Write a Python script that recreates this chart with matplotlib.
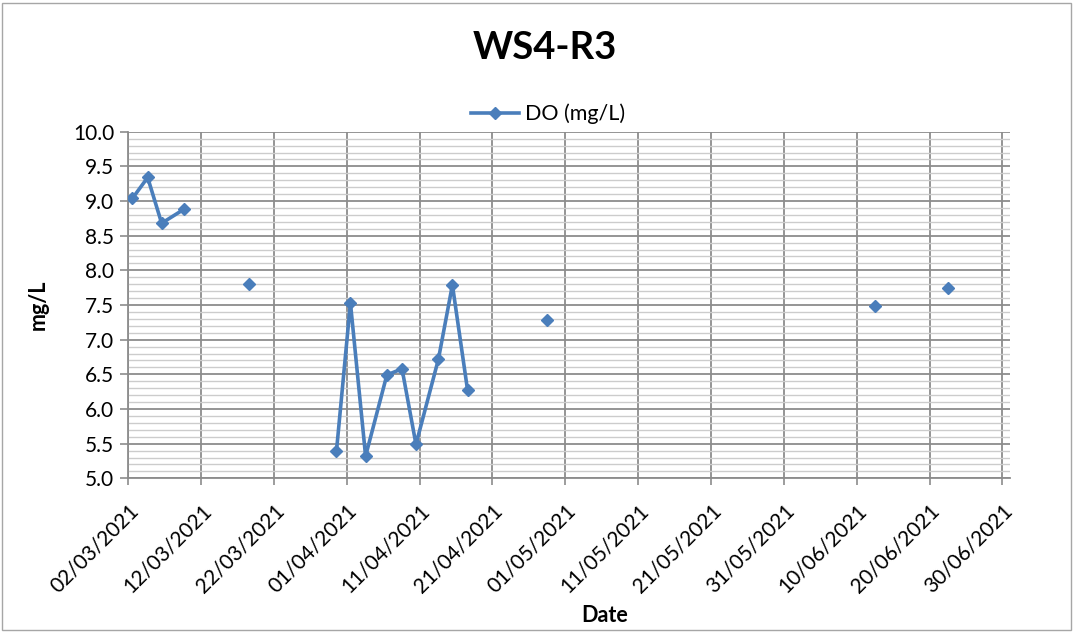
import matplotlib
matplotlib.use("Agg")
import matplotlib.pyplot as plt
import matplotlib.dates as mdates
from matplotlib.ticker import MultipleLocator
from matplotlib.transforms import ScaledTranslation
from matplotlib.patches import Rectangle
import numpy as np
import pandas as pd

# sample dates (blank rows = no DO reading, they break the line like Excel does)
sample_dates = ["2021-03-02 14:00", "2021-03-04 16:00", "2021-03-06 14:00", "2021-03-09 15:00",
                "2021-03-12 12:00",
                "2021-03-18 14:00",
                "2021-03-25 12:00",
                "2021-03-30 14:00", "2021-04-01 12:00", "2021-04-03 14:00", "2021-04-06 12:00",
                "2021-04-08 14:00", "2021-04-10 12:00", "2021-04-13 14:00", "2021-04-15 12:00",
                "2021-04-17 14:00",
                "2021-04-22 12:00",
                "2021-04-28 12:00",
                "2021-05-20 12:00",
                "2021-06-12 12:00",
                "2021-06-17 12:00",
                "2021-06-22 12:00"]
do_values = [9.04, 9.34, 8.68, 8.88,
             np.nan,
             7.81,
             np.nan,
             5.39, 7.53, 5.32, 6.49, 6.58, 5.49, 6.72, 7.79, 6.27,
             np.nan,
             7.29,
             np.nan,
             7.48,
             np.nan,
             7.75]

series_name = "DO (mg/L)"
chart_title = "WS4-R3"
x_label = "Date"
y_label = "mg/L"

x_start = "2021-03-02"
x_end = "2021-07-01 01:00"

dates = pd.to_datetime(sample_dates)

plt.rcParams['font.family'] = ['Lato', 'DejaVu Sans']

fig = plt.figure(figsize=(10.75, 6.33), dpi=100)
ax = fig.add_axes([0.1193, 0.2444, 0.8202, 0.5475])

# chart area border
fig.patches.append(Rectangle((0.002, 0.004), 0.994, 0.992, transform=fig.transFigure,
                             fill=False, edgecolor="#a6a6a6", linewidth=1.0))

ax.plot(dates, do_values, color="#4a7ebb", linewidth=2.6, marker="D", markersize=6.5,
        markerfacecolor="#4a7ebb", markeredgecolor="#4a7ebb", label=series_name, zorder=3)

ax.set_ylim(5.0, 10.0)
ax.yaxis.set_major_locator(MultipleLocator(0.5))
ax.yaxis.set_minor_locator(MultipleLocator(0.1))
ax.yaxis.set_major_formatter(matplotlib.ticker.FormatStrFormatter("%.1f"))

ax.set_xlim(pd.Timestamp(x_start), pd.Timestamp(x_end))
ticks = pd.date_range("2021-03-02", "2021-06-30", freq="10D")
ax.set_xticks(ticks)
ax.xaxis.set_major_formatter(mdates.DateFormatter("%d/%m/%Y"))

ax.grid(which="major", axis="both", color="#8c8c8c", linewidth=1.3, zorder=0)
ax.grid(which="minor", axis="y", color="#cccccc", linewidth=1.0, zorder=0)
ax.set_axisbelow(True)

for s in ["top", "right"]:
    ax.spines[s].set_visible(False)
for s in ["left", "bottom"]:
    ax.spines[s].set_color("#8c8c8c")
    ax.spines[s].set_linewidth(1.3)

ax.tick_params(axis="y", which="major", length=6, width=1.2, color="#8c8c8c",
               labelsize=15, pad=4)
ax.tick_params(axis="y", which="minor", length=0)
ax.tick_params(axis="x", which="major", length=5, width=1.2, color="#8c8c8c",
               labelsize=15, pad=11)

for lab in ax.get_xticklabels():
    lab.set_rotation(45)
    lab.set_ha("right")
    lab.set_va("top")
    lab.set_rotation_mode("anchor")
    lab.set_transform(lab.get_transform() + ScaledTranslation(0.0, 0, fig.dpi_scale_trans))

fig.text(0.507, 0.924, chart_title, ha="center", va="center", fontsize=27.5, fontweight="bold")
ax.set_xlabel(x_label, fontsize=15.5, fontweight="bold")
ax.xaxis.set_label_coords(0.54, -0.365)
ax.set_ylabel(y_label, fontsize=15.5, fontweight="bold")
ax.yaxis.set_label_coords(-0.09, 0.5)

ax.legend(loc="center", bbox_to_anchor=(0.51, 0.82), bbox_transform=fig.transFigure,
          frameon=False, fontsize=15.5, handlelength=2.2, handletextpad=0.3)

fig.savefig("out.png", dpi=100)
